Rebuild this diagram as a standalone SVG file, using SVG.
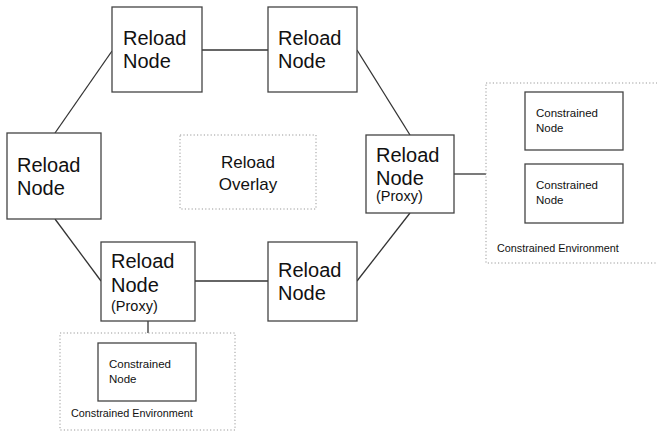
<svg xmlns="http://www.w3.org/2000/svg" width="657" height="433" viewBox="0 0 657 433">
<style>
.n{fill:#fff;stroke:#444;stroke-width:1.3}
.d{fill:none;stroke:#999;stroke-width:1;stroke-dasharray:1.2,2.2}
.t{font-family:"Liberation Sans",Arial,sans-serif;fill:#111}
.big{font-size:20px}
.ov{font-size:17px;text-anchor:middle}
.px{font-size:14.5px}
.cn{font-size:11.5px}
.ce{font-size:10.8px}
.c{stroke:#333;stroke-width:1.3;fill:none}
</style>
<rect width="657" height="433" fill="#fff"/>
<g id="connectors">
<line class="c" x1="112" y1="51" x2="55" y2="133"/>
<line class="c" x1="202" y1="50" x2="268" y2="50"/>
<line class="c" x1="357" y1="50" x2="410" y2="135"/>
<line class="c" x1="410" y1="213" x2="357" y2="281"/>
<line class="c" x1="195" y1="281" x2="268" y2="281"/>
<line class="c" x1="101" y1="281" x2="55" y2="219"/>
<line class="c" x1="454" y1="174" x2="486" y2="174"/>
<line class="c" x1="148" y1="321" x2="148" y2="333"/>
</g>
<g id="node-top-left">
<rect class="n" x="112" y="7" width="90" height="85"/>
<text class="t big" x="123" y="45">Reload</text>
<text class="t big" x="123" y="68">Node</text>
</g>
<g id="node-top-right">
<rect class="n" x="268" y="7" width="89" height="85"/>
<text class="t big" x="278" y="45">Reload</text>
<text class="t big" x="278" y="68">Node</text>
</g>
<g id="node-left">
<rect class="n" x="7" y="133" width="94" height="86"/>
<text class="t big" x="17" y="172">Reload</text>
<text class="t big" x="17" y="195">Node</text>
</g>
<g id="overlay">
<rect class="d" x="180" y="135" width="136" height="74"/>
<text class="t ov" x="248" y="168">Reload</text>
<text class="t ov" x="248" y="190">Overlay</text>
</g>
<g id="node-right-proxy">
<rect class="n" x="366" y="135" width="88" height="78"/>
<text class="t big" x="376" y="162">Reload</text>
<text class="t big" x="376" y="185">Node</text>
<text class="t px" x="376" y="201">(Proxy)</text>
</g>
<g id="node-bottom-proxy">
<rect class="n" x="101" y="242" width="94" height="79"/>
<text class="t big" x="111" y="268">Reload</text>
<text class="t big" x="111" y="292">Node</text>
<text class="t px" x="111" y="311">(Proxy)</text>
</g>
<g id="node-bottom-right">
<rect class="n" x="268" y="242" width="89" height="79"/>
<text class="t big" x="278" y="277">Reload</text>
<text class="t big" x="278" y="300">Node</text>
</g>
<g id="env-right">
<rect class="d" x="486" y="83" width="175" height="180"/>
<text class="t ce" x="497" y="252">Constrained Environment</text>
</g>
<g id="cnode-right-1">
<rect class="n" x="525" y="92" width="98" height="58"/>
<text class="t cn" x="536" y="117">Constrained</text>
<text class="t cn" x="536" y="132">Node</text>
</g>
<g id="cnode-right-2">
<rect class="n" x="525" y="164" width="98" height="59"/>
<text class="t cn" x="536" y="189">Constrained</text>
<text class="t cn" x="536" y="204">Node</text>
</g>
<g id="env-bottom">
<rect class="d" x="60" y="333" width="175" height="97"/>
<text class="t ce" x="71" y="417">Constrained Environment</text>
</g>
<g id="cnode-bottom">
<rect class="n" x="98" y="343" width="98" height="58"/>
<text class="t cn" x="109" y="368">Constrained</text>
<text class="t cn" x="109" y="383">Node</text>
</g>
</svg>
